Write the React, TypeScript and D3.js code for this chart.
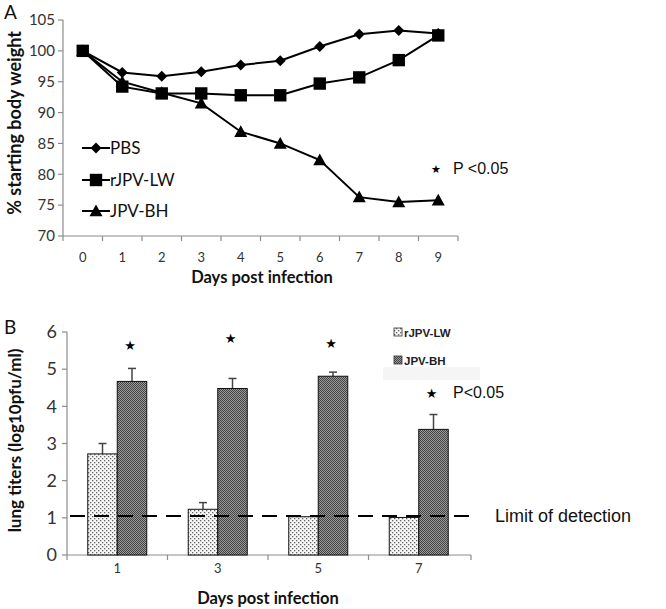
import React from "react";
import * as d3 from "d3";

const days = [0, 1, 2, 3, 4, 5, 6, 7, 8, 9];
const pbs = [100, 96.5, 95.9, 96.6, 97.7, 98.4, 100.7, 102.7, 103.3, 102.8];
const rjpvLW = [100, 94.2, 93.1, 93.1, 92.8, 92.8, 94.7, 95.7, 98.5, 102.5];
const jpvBH = [100, 95.0, 93.2, 91.5, 86.9, 85.0, 82.3, 76.3, 75.5, 75.8];
const weightTicks = [70, 75, 80, 85, 90, 95, 100, 105];

const titerDays = ["1", "3", "5", "7"];
const titerLW = [2.72, 1.23, 1.03, 1.01];
const titerLWErr = [0.28, 0.18, 0.0, 0.0];
const titerBH = [4.67, 4.48, 4.81, 3.38];
const titerBHErr = [0.35, 0.27, 0.11, 0.4];
const titerTicks = [0, 1, 2, 3, 4, 5, 6];
const detectionLimit = 1.05;
const sigDays = ["1", "3", "5", "7"];
const sigLevels = [5.65, 5.84, 5.7, 4.36];

const calibri = "Lato, 'Open Sans', sans-serif";
const arial = "'Liberation Sans', Arial, sans-serif";
const starFont = "'DejaVu Sans', sans-serif";

export default function App() {
  // Panel A scales
  const xA = d3.scaleBand<number>().domain(days).range([63, 458]);
  const yA = d3.scaleLinear().domain([70, 105]).range([236, 20]);
  const line = d3
    .line<number>()
    .x((_, i) => xA(days[i])! + xA.bandwidth() / 2)
    .y((v) => yA(v));

  // Panel B scales
  const xB = d3.scaleBand<string>().domain(titerDays).range([67, 469]);
  const yB = d3.scaleLinear().domain([0, 6]).range([555, 332]);
  const barW = 29.5;

  const diamond = (cx: number, cy: number, r = 5.5) =>
    `M${cx},${cy - r}L${cx + r},${cy}L${cx},${cy + r}L${cx - r},${cy}Z`;
  const triangle = (cx: number, cy: number, s = 6.5) =>
    `M${cx},${cy - s}L${cx + s},${cy + s * 0.8}L${cx - s},${cy + s * 0.8}Z`;
  const square = (cx: number, cy: number, s = 6.2) =>
    `M${cx - s},${cy - s}h${2 * s}v${2 * s}h${-2 * s}Z`;

  const axisColor = "#8c8c8c";
  const tickText = "#333";

  const series = [
    { name: "PBS", values: pbs, marker: diamond },
    { name: "rJPV-LW", values: rjpvLW, marker: square },
    { name: "JPV-BH", values: jpvBH, marker: triangle },
  ];
  const legendY = [148, 180, 211];

  return (
    <svg width={666} height={609} style={{ display: "block", position: "absolute", left: 0, top: 0 }}>
      <defs>
        <pattern id="dots" width="4" height="4" patternUnits="userSpaceOnUse">
          <rect width="4" height="4" fill="#f6f6f6" />
          <rect x="0" y="0" width="1.3" height="1.3" fill="#666" />
          <rect x="2" y="2" width="1.3" height="1.3" fill="#666" />
        </pattern>
        <pattern id="cross" width="2" height="2" patternUnits="userSpaceOnUse">
          <rect width="2" height="2" fill="#999" />
          <rect x="0" y="0" width="1" height="1" fill="#444" />
          <rect x="1" y="1" width="1" height="1" fill="#444" />
        </pattern>
      </defs>
      <g>
        {/* Panel A */}
        <text x={4} y={19} fontFamily={calibri} fontSize={19} fill="#111">A</text>
        <line x1={63} x2={63} y1={yA(105)} y2={yA(70)} stroke={axisColor} strokeWidth={1.2} />
        <line x1={63} x2={458} y1={yA(70)} y2={yA(70)} stroke={axisColor} strokeWidth={1.2} />
        {weightTicks.map((t) => (
          <g key={t}>
            <line x1={58} x2={63} y1={yA(t)} y2={yA(t)} stroke={axisColor} strokeWidth={1.2} />
            <text x={55} y={yA(t)} dy="0.35em" textAnchor="end" fontFamily={calibri} fontSize={15} fill={tickText}>
              {t}
            </text>
          </g>
        ))}
        {days.map((d) => (
          <g key={d}>
            <line x1={xA(d)!} x2={xA(d)!} y1={yA(70)} y2={yA(70) + 5} stroke={axisColor} strokeWidth={1.2} />
            <text x={xA(d)! + xA.bandwidth() / 2} y={262} textAnchor="middle" fontFamily={calibri} fontSize={13} fill={tickText}>
              {d}
            </text>
          </g>
        ))}
        <line x1={458} x2={458} y1={yA(70)} y2={yA(70) + 5} stroke={axisColor} strokeWidth={1.2} />
        <text x={262} y={283} textAnchor="middle" fontFamily={calibri} fontWeight="bold" fontSize={16.5} fill="#111">
          Days post infection
        </text>
        <text
          transform={`translate(21,${(yA(105) + yA(70)) / 2 - 5}) rotate(-90)`}
          textAnchor="middle"
          fontFamily={calibri}
          fontWeight="bold"
          fontSize={18}
          fill="#111"
        >
          % starting body weight
        </text>
        {series.map((s) => (
          <g key={s.name}>
            <path d={line(s.values)!} fill="none" stroke="#000" strokeWidth={2} />
            {s.values.map((v, i) => (
              <path key={i} d={s.marker(xA(days[i])! + xA.bandwidth() / 2, yA(v))} fill="#000" />
            ))}
          </g>
        ))}
        {series.map((s, i) => (
          <g key={s.name}>
            <line x1={82} x2={110} y1={legendY[i]} y2={legendY[i]} stroke="#000" strokeWidth={2} />
            <path d={s.marker(96, legendY[i])} fill="#000" />
            <text x={110} y={legendY[i]} dy="0.36em" fontFamily={calibri} fontSize={17} fill="#111">
              {s.name}
            </text>
          </g>
        ))}
        <text x={436} y={169} dy="0.36em" textAnchor="middle" fontFamily={starFont} fontSize={11} fill="#000">★</text>
        <text x={453} y={168} dy="0.36em" fontFamily={arial} fontSize={16} fill="#111">P &lt;0.05</text>

        {/* Panel B */}
        <text x={4} y={334} fontFamily={calibri} fontSize={19} fill="#111">B</text>
        <line x1={67} x2={67} y1={yB(6)} y2={yB(0)} stroke={axisColor} strokeWidth={1.2} />
        <line x1={67} x2={471} y1={yB(0)} y2={yB(0)} stroke={axisColor} strokeWidth={1.2} />
        {titerTicks.map((t) => (
          <g key={t}>
            <line x1={62} x2={67} y1={yB(t)} y2={yB(t)} stroke={axisColor} strokeWidth={1.2} />
            <text x={57} y={yB(t)} dy="0.35em" textAnchor="end" fontFamily={calibri} fontSize={18} fill={tickText}>
              {t}
            </text>
          </g>
        ))}
        {titerDays.map((d) => (
          <g key={d}>
            <line x1={xB(d)!} x2={xB(d)!} y1={yB(0)} y2={yB(0) + 5} stroke={axisColor} strokeWidth={1.2} />
            <text x={xB(d)! + xB.bandwidth() / 2} y={573} textAnchor="middle" fontFamily={calibri} fontSize={13} fill={tickText}>
              {d}
            </text>
          </g>
        ))}
        <line x1={471} x2={471} y1={yB(0)} y2={yB(0) + 5} stroke={axisColor} strokeWidth={1.2} />
        <text x={268} y={604} textAnchor="middle" fontFamily={calibri} fontWeight="bold" fontSize={16.5} fill="#111">
          Days post infection
        </text>
        <text
          transform={`translate(21,${(yB(6) + yB(0)) / 2 - 3}) rotate(-90)`}
          textAnchor="middle"
          fontFamily={calibri}
          fontWeight="bold"
          fontSize={17}
          fill="#111"
        >
          lung titers (log10pfu/ml)
        </text>
        {titerDays.map((d, i) => {
          const c = xB(d)! + xB.bandwidth() / 2;
          const bars = [
            { x: c - barW, v: titerLW[i], e: titerLWErr[i], fill: "url(#dots)" },
            { x: c, v: titerBH[i], e: titerBHErr[i], fill: "url(#cross)" },
          ];
          return (
            <g key={d}>
              {bars.map((b, j) => (
                <g key={j}>
                  {b.e > 0 && (
                    <g stroke="#444" strokeWidth={1.5}>
                      <line x1={b.x + barW / 2} x2={b.x + barW / 2} y1={yB(b.v)} y2={yB(b.v + b.e)} />
                      <line x1={b.x + barW / 2 - 4} x2={b.x + barW / 2 + 4} y1={yB(b.v + b.e)} y2={yB(b.v + b.e)} />
                    </g>
                  )}
                  <rect x={b.x} y={yB(b.v)} width={barW} height={yB(0) - yB(b.v)} fill={b.fill} stroke="#111" strokeWidth={1} />
                </g>
              ))}
            </g>
          );
        })}
        <line
          x1={70}
          x2={478}
          y1={yB(detectionLimit)}
          y2={yB(detectionLimit)}
          stroke="#000"
          strokeWidth={2.2}
          strokeDasharray="15,9"
        />
        <text x={495} y={yB(detectionLimit)} dy="0.36em" fontFamily={arial} fontSize={18} fill="#111">
          Limit of detection
        </text>
        {sigDays.map((d, i) => {
          const c = xB(d)! + xB.bandwidth() / 2 + barW / 2;
          return (
            <text key={d} x={c - 2} y={yB(sigLevels[i])} dy="0.36em" textAnchor="middle" fontFamily={starFont} fontSize={13} fill="#000">
              ★
            </text>
          );
        })}
        <text x={453} y={392} dy="0.36em" fontFamily={arial} fontSize={16} fill="#111">P&lt;0.05</text>
        <rect x={383} y={367} width={97} height={13} fill="#f5f5f5" />
        <rect x={394} y={328} width={8} height={8} fill="url(#dots)" stroke="#333" strokeWidth={0.8} />
        <text x={404} y={333} dy="0.36em" fontFamily={arial} fontWeight="bold" fontSize={11.5} fill="#222">rJPV-LW</text>
        <rect x={394} y={356} width={8} height={8} fill="url(#cross)" stroke="#333" strokeWidth={0.8} />
        <text x={404} y={361} dy="0.36em" fontFamily={arial} fontWeight="bold" fontSize={11.5} fill="#222">JPV-BH</text>
      </g>
    </svg>
  );
}
